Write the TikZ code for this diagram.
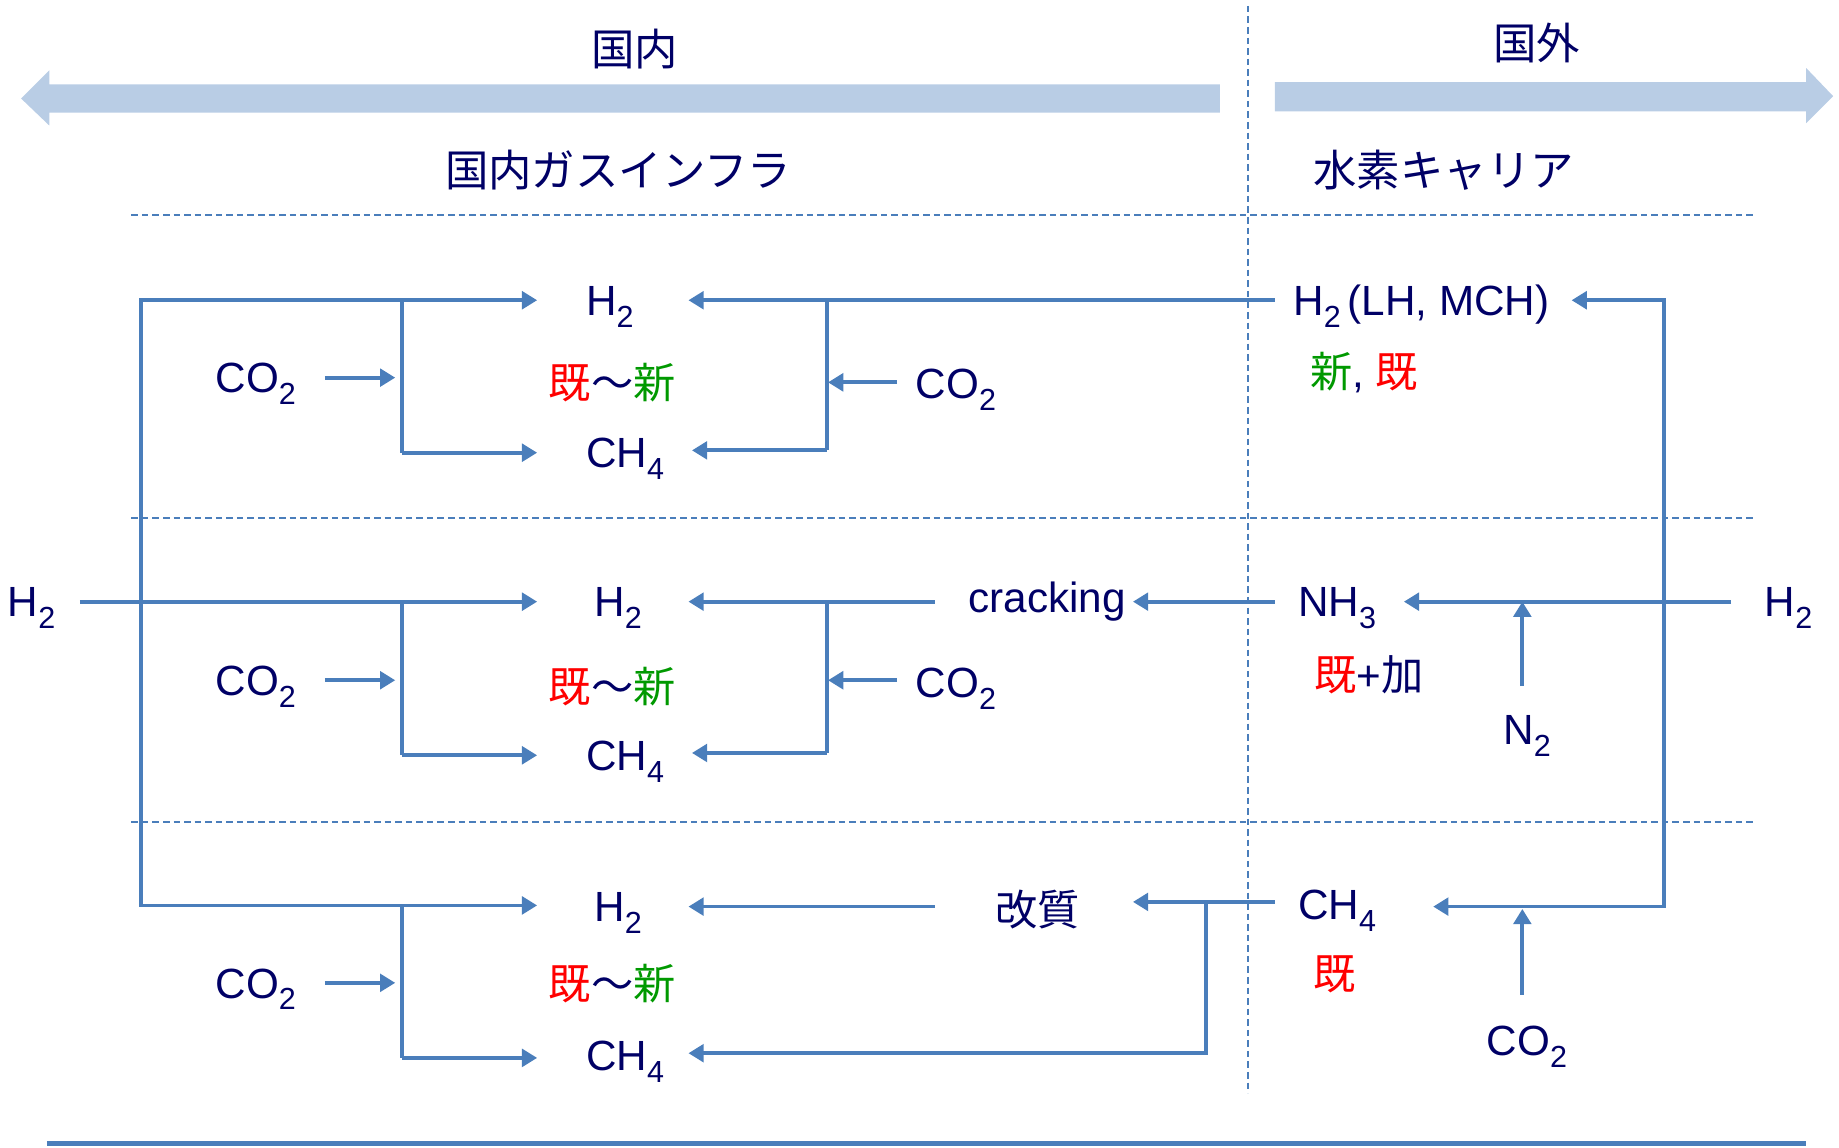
\documentclass[tikz,border=0pt]{standalone}
\usepackage{fontspec}
\setmainfont{Liberation Sans}
\newfontfamily\cjk{Noto Sans CJK JP}
\usetikzlibrary{arrows.meta}
\definecolor{navy}{RGB}{0,0,102}
\definecolor{lineblue}{RGB}{74,126,187}
\definecolor{lightblue}{RGB}{185,205,229}
\definecolor{kired}{RGB}{255,0,0}
\definecolor{singreen}{RGB}{0,153,0}
\newcommand\sbsc[1]{\raisebox{-0.28em}{\fontsize{13pt}{13pt}\selectfont #1}}
\begin{document}
\begin{tikzpicture}[x=0.5pt,y=-0.5pt,
  lbl/.style={text=navy,font=\fontsize{18pt}{20pt}\selectfont,inner sep=0pt,anchor=base},
  ttl/.style={text=navy,font=\fontsize{18.5pt}{20pt}\selectfont\cjk,inner sep=0pt,anchor=base},
  conn/.style={draw=lineblue,line width=1.6pt,-{Triangle[length=6.5pt,width=7.5pt]}},
  plain/.style={draw=lineblue,line width=1.6pt},
  sep/.style={draw=lineblue,line width=0.85pt,dash pattern=on 2.8pt off 1.7pt},
  bigarrow/.style={fill=lightblue,draw=none}]
\useasboundingbox (0,0) rectangle (1568,978);

% big direction arrows
\fill[bigarrow] (1040,72) -- (42,72) -- (42,60) -- (18,84) -- (42,107) -- (42,96) -- (1040,96) -- cycle;
\fill[bigarrow] (1087,70) -- (1540,70) -- (1540,58) -- (1563,82) -- (1540,105) -- (1540,95) -- (1087,95) -- cycle;

% separators
\draw[sep] (1064,5) -- (1064,932);
\draw[sep] (112,183) -- (1497,183);
\draw[sep] (112,442) -- (1497,442);
\draw[sep] (112,701) -- (1497,701);
\draw[draw=lineblue,line width=2.1pt] (40,975) -- (1540,975);

% titles
\node[ttl] (tdom) at (541,56) {国内};
\node[ttl] (tfor) at (1310,51) {国外};
\node[ttl] (tgas) at (527,159) {国内ガスインフラ};
\node[ttl] (tcar) at (1231,159) {水素キャリア};

% ---------- row 1 ----------
\node[lbl] (h2a) at (520,269) {H\sbsc{2}};
\node[lbl,font=\fontsize{18pt}{20pt}\selectfont\cjk] (ka) at (522,340) {\textcolor{kired}{既}～\textcolor{singreen}{新}};
\node[lbl] (ch4a) at (533,399) {CH\sbsc{4}};
\node[lbl] (co2aL) at (218,335) {CO\sbsc{2}};
\node[lbl] (co2aR) at (815,340) {CO\sbsc{2}};
\node[lbl] (lhmch) at (1215,269) {H\sbsc{2}\,(LH, MCH)\,};
\node[lbl] (sk) at (1163,330) {{\cjk\textcolor{singreen}{新}}, {\cjk\textcolor{kired}{既}}};

% ---------- row 2 ----------
\node[lbl] (h2in) at (27,526) {H\sbsc{2}};
\node[lbl] (h2b) at (527,526) {H\sbsc{2}};
\node[lbl,font=\fontsize{18pt}{20pt}\selectfont\cjk] (kb) at (522,599) {\textcolor{kired}{既}～\textcolor{singreen}{新}};
\node[lbl] (ch4b) at (533,657) {CH\sbsc{4}};
\node[lbl] (co2bL) at (218,593) {CO\sbsc{2}};
\node[lbl] (co2bR) at (815,595) {CO\sbsc{2}};
\node[lbl] (crack) at (893,522) {cracking};
\node[lbl] (nh3) at (1140,526) {NH\sbsc{3}};
\node[lbl] (kk) at (1167,589) {{\cjk\textcolor{kired}{既}}+{\cjk 加}};
\node[lbl] (h2out) at (1525,526) {H\sbsc{2}};
\node[lbl] (n2) at (1302,635) {N\sbsc{2}};

% ---------- row 3 ----------
\node[lbl] (h2c) at (527,786) {H\sbsc{2}};
\node[lbl,font=\fontsize{18pt}{20pt}\selectfont\cjk] (kc) at (522,852) {\textcolor{kired}{既}～\textcolor{singreen}{新}};
\node[lbl] (ch4c) at (533,913) {CH\sbsc{4}};
\node[lbl] (co2cL) at (218,851) {CO\sbsc{2}};
\node[lbl,font=\fontsize{18pt}{20pt}\selectfont\cjk] (kaishitsu) at (885,789) {改質};
\node[lbl] (ch4out) at (1140,784) {CH\sbsc{4}};
\node[lbl,font=\fontsize{18pt}{20pt}\selectfont\cjk] (kd) at (1138,844) {\textcolor{kired}{既}};
\node[lbl] (co2out) at (1302,900) {CO\sbsc{2}};

% ---------- connectors: left feed ----------
\draw[conn] (120,772) -- (120,256) -- (458,256);
\draw[conn] (120,256) -- (120,772) -- (458,772);
\draw[conn] (68,513) -- (458,513);

% left branches (methanation)
\draw[plain] (343,256) -- (343,386);
\draw[conn] (343,386) -- (458,386);
\draw[conn] (277,322) -- (337,322);
\draw[plain] (343,513) -- (343,644);
\draw[conn] (343,644) -- (458,644);
\draw[conn] (277,580) -- (337,580);
\draw[plain] (343,772) -- (343,902);
\draw[conn] (343,902) -- (458,902);
\draw[conn] (277,838) -- (337,838);

% right branches row 1
\draw[conn] (1087,256) -- (587,256);
\draw[plain] (705,256) -- (705,384);
\draw[conn] (705,384) -- (590,384);
\draw[conn] (765,326) -- (706,326);

% right branches row 2
\draw[conn] (797,513) -- (587,513);
\draw[plain] (705,513) -- (705,642);
\draw[conn] (705,642) -- (590,642);
\draw[conn] (765,580) -- (706,580);
\draw[conn] (1087,513) -- (966,513);

% right branches row 3
\draw[conn] (797,773) -- (587,773);
\draw[conn] (1087,769) -- (966,769);
\draw[conn] (1028,769) -- (1028,898) -- (587,898);

% overseas side
\draw[conn] (1419,773) -- (1419,256) -- (1340,256);
\draw[conn] (1419,256) -- (1419,773) -- (1222,773);
\draw[conn] (1476,513) -- (1197,513);
\draw[conn] (1298,585) -- (1298,513);
\draw[conn] (1298,848) -- (1298,775);
\end{tikzpicture}
\end{document}
